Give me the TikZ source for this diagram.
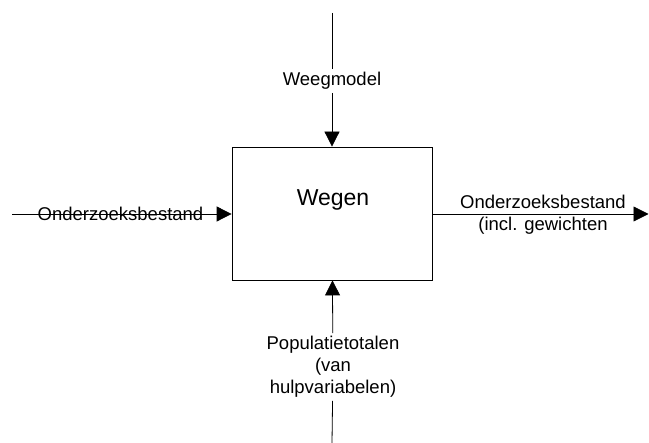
\documentclass[tikz,border=0pt]{standalone}
\usepackage{fontspec}
\setmainfont{Liberation Sans}
\usetikzlibrary{arrows.meta, positioning}
\tikzset{
	proc/.style={draw, line width=0.8pt, minimum width=200pt, minimum height=133pt, inner sep=0pt},
	lbl/.style={font=\fontsize{18.5}{22}\selectfont, align=center, inner sep=3pt},
	flow/.style={line width=0.8pt, -{Triangle[length=15pt,width=15pt]}},
	wire/.style={line width=0.8pt}
}
\begin{document}
\begin{tikzpicture}[x=1pt, y=-1pt]
			\useasboundingbox (0, 0) rectangle (649, 443);
			\node [proc] (box) at (332, 213.5) {};
			\node [font=\fontsize{23}{27}\selectfont] (wegen) at (333, 200) {Wegen};
			% besturing (boven)
			\coordinate (wtop) at (332, 13);
			\node [lbl] (weeg) at (332, 81) {Weegmodel};
			\draw [wire] (wtop)--(weeg);
			\draw [flow] (weeg)--(box);
			% invoer (links)
			\coordinate (lin) at (12, 214);
			\draw [flow] (lin)--(box.west |- lin);
			\node [lbl] (ondin) at (120.5, 214) {Onderzoeksbestand};
			% uitvoer (rechts)
			\coordinate (rout) at (648.5, 214);
			\draw [flow] (box.east |- rout)--(rout);
			\node [lbl] (ondout) at (543, 215) {Onderzoeksbestand\\(incl. gewichten};
			% mechanisme (onder)
			\coordinate (pbot) at (332, 443);
			\node [lbl] (popul) at (333, 367) {Populatietotalen\\(van\\hulpvariabelen)};
			\draw [wire] (pbot)--(popul);
			\draw [flow] (popul)--(box);
		\end{tikzpicture}
\end{document}
